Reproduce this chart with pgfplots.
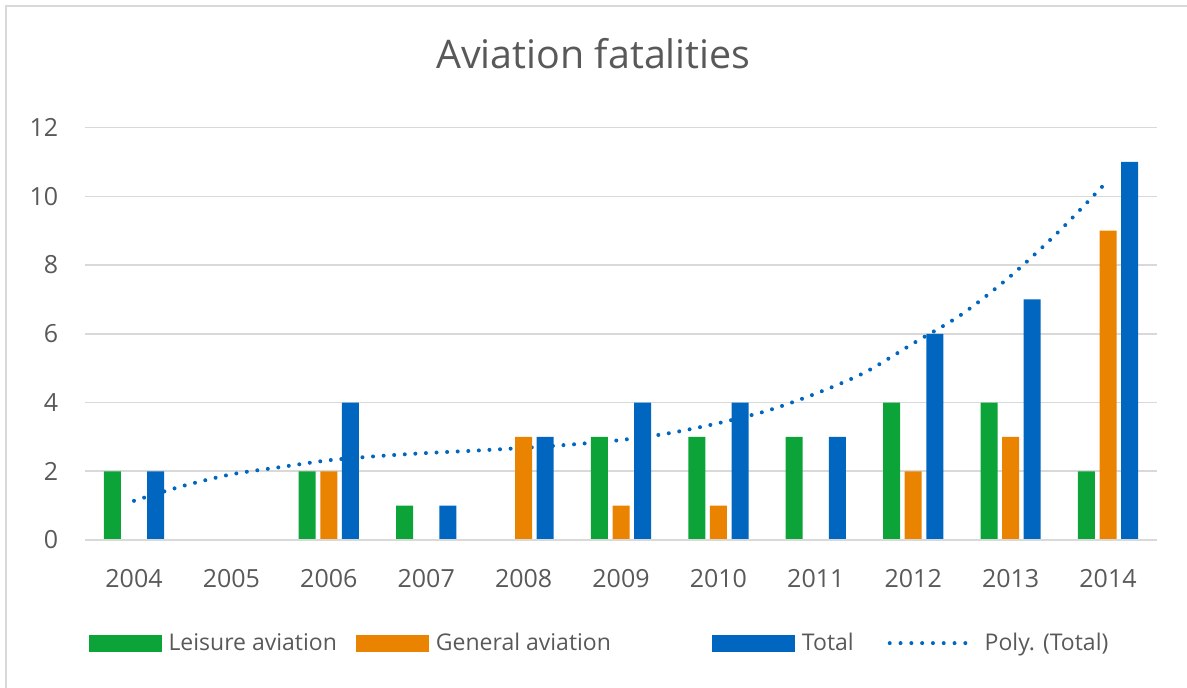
\documentclass[border=0pt]{standalone}
\usepackage{pgfplots}
\pgfplotsset{compat=1.18}
\usepackage{fontspec}
\setmainfont{Open Sans}
\definecolor{leis}{RGB}{12,164,56}
\definecolor{gen}{RGB}{233,131,0}
\definecolor{tot}{RGB}{0,102,191}
\definecolor{txt}{RGB}{89,89,89}
\definecolor{grd}{RGB}{217,217,217}
\begin{document}
\begin{tikzpicture}
\useasboundingbox (0,0) rectangle (593.5pt,344pt);
\draw[grd, line width=1pt] (3pt,0) -- (3pt,341pt) -- (593.5pt,341pt);
\node[font=\fontsize{19.7}{23}\selectfont, text=txt, anchor=base] at (296.75pt,309.5pt) {Aviation fatalities};
\begin{axis}[
  at={(42.65pt,74pt)}, anchor=south west,
  scale only axis, width=535.7pt, height=206.2pt,
  xmin=-0.5, xmax=10.5, ymin=0, ymax=12,
  xtick={0,...,10},
  xticklabels={2004,2005,2006,2007,2008,2009,2010,2011,2012,2013,2014},
  ytick={0,2,...,12},
  axis line style={draw=none},
  major tick length=0pt, tick style={draw=none},
  ymajorgrids, grid style={grd, line width=0.8pt},
  tick label style={font=\fontsize{12.5}{15}\selectfont, text=txt},
  xticklabel style={yshift=-11pt}, yticklabel style={xshift=-10pt},
  /pgf/number format/assume math mode=true,
  legend columns=4, legend cell align=left,
  legend style={at={(0.003,-0.25)}, anchor=west, draw=none, fill=none,
    inner sep=0pt, outer sep=0pt,
    font=\fontsize{11.5}{14}\selectfont, text=txt,
    /tikz/every odd column/.append style={column sep=1.5pt},
    /tikz/column 2/.append style={column sep=7.5pt},
    /tikz/column 4/.append style={column sep=48.5pt},
    /tikz/column 6/.append style={column sep=15pt}},
]
% trend line behind the bars
\addplot[tot, line width=2pt, dash pattern=on 0pt off 5.3pt, line cap=round, smooth, forget plot] coordinates {
(0,1.14) (0.5,1.57) (1,1.91) (1.5,2.12) (2,2.32) (2.5,2.44) (3,2.53) (3.5,2.60)
(4,2.68) (4.5,2.78) (5,2.91) (5.5,3.11) (6,3.40) (6.5,3.76) (7,4.26) (7.5,4.87)
(8,5.72) (8.5,6.57) (9,7.68) (9.5,8.99) (10,10.46)
};
\addplot[ybar, bar width=8.5pt, bar shift=-10.8pt, fill=leis, draw=none,
  legend image code/.code={\fill[leis] (0pt,-4.25pt) rectangle (36.5pt,4.25pt);}] coordinates {
(0,2) (1,0) (2,2) (3,1) (4,0) (5,3) (6,3) (7,3) (8,4) (9,4) (10,2)
};
\addlegendentry{Leisure aviation}
\addplot[ybar, bar width=8.5pt, bar shift=0pt, fill=gen, draw=none,
  legend image code/.code={\fill[gen] (0pt,-4.25pt) rectangle (36.5pt,4.25pt);}] coordinates {
(0,0) (1,0) (2,2) (3,0) (4,3) (5,1) (6,1) (7,0) (8,2) (9,3) (10,9)
};
\addlegendentry{General aviation}
\addplot[ybar, bar width=8.5pt, bar shift=10.8pt, fill=tot, draw=none,
  legend image code/.code={\fill[tot] (0pt,-4.25pt) rectangle (41.5pt,4.25pt);}] coordinates {
(0,2) (1,0) (2,4) (3,1) (4,3) (5,4) (6,4) (7,3) (8,6) (9,7) (10,11)
};
\addlegendentry{Total}
\addlegendimage{legend image code/.code={\draw[tot, line width=2pt, dash pattern=on 0pt off 5.4pt, line cap=round] (1pt,0pt) -- (44pt,0pt);}}
\addlegendentry{Poly. (Total)}
\draw[grd, line width=1.3pt] (rel axis cs:0,0) -- (rel axis cs:1,0);
\end{axis}
\end{tikzpicture}
\end{document}
